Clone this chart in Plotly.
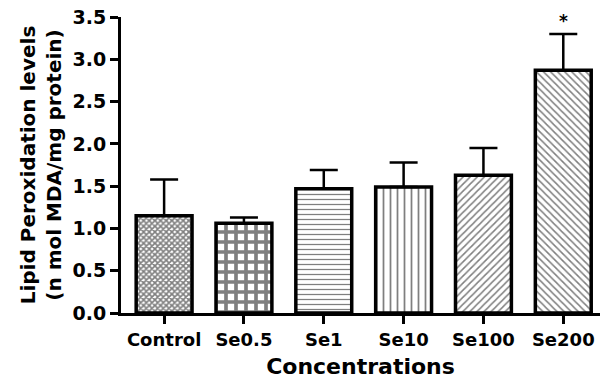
import plotly.graph_objects as go

categories = ["Control", "Se0.5", "Se1", "Se10", "Se100", "Se200"]
means = [1.15, 1.06, 1.47, 1.49, 1.63, 2.87]
errors = [0.43, 0.07, 0.22, 0.29, 0.32, 0.43]
zeros = [0, 0, 0, 0, 0, 0]
patterns = ["x", "+", "-", "|", "/", "\\"]
pattern_sizes = [4, 10, 5, 7, 5, 5]
pattern_solidity = [0.65, 0.6, 0.25, 0.25, 0.3, 0.3]
y_ticks = [0.0, 0.5, 1.0, 1.5, 2.0, 2.5, 3.0, 3.5]

FONT = "DejaVu Sans, Liberation Sans, Arial, sans-serif"

fig = go.Figure()
fig.add_trace(go.Bar(
    x=categories, y=means, width=0.7,
    marker=dict(color="white", line=dict(color="black", width=3.5),
                pattern=dict(shape=patterns, fgcolor="black", bgcolor="white",
                             size=pattern_sizes, solidity=pattern_solidity)),
    error_y=dict(type="data", symmetric=False, array=errors, arrayminus=zeros,
                 color="black", thickness=2.5, width=14),
    showlegend=False,
))

fig.add_annotation(x="Se200", y=means[5] + errors[5], text="<b>*</b>", showarrow=False,
                   yshift=13, font=dict(size=17, color="black", family=FONT))

fig.update_layout(
    width=604, height=379, plot_bgcolor="white", paper_bgcolor="white",
    margin=dict(l=121, r=4, t=17, b=66, autoexpand=False),
    font=dict(family=FONT, color="black"),
    xaxis=dict(range=[-0.54, 5.46], showline=True, linecolor="black", linewidth=3,
               ticks="outside", ticklen=8, tickwidth=3, tickcolor="black",
               tickfont=dict(size=18, family=FONT, color="black", weight="bold"),
               title=dict(text="<b>Concentrations</b>", font=dict(size=22, family=FONT), standoff=13),
               showgrid=False, zeroline=False, automargin=False),
    yaxis=dict(range=[0, 3.5], tickvals=y_ticks, ticktext=[f"{v:.1f}" for v in y_ticks],
               showline=True, linecolor="black", linewidth=3,
               ticks="outside", ticklen=8, tickwidth=3, tickcolor="black",
               tickfont=dict(size=19, family=FONT, color="black", weight="bold"),
               title=dict(text="<b>Lipid Peroxidation levels<br>(n mol MDA/mg protein)</b>",
                          font=dict(size=20, family=FONT), standoff=6),
               showgrid=False, zeroline=False, automargin=False),
)
fig.write_html("out.html", config={"displayModeBar": False},
               post_script="document.body.style.margin='0';")
